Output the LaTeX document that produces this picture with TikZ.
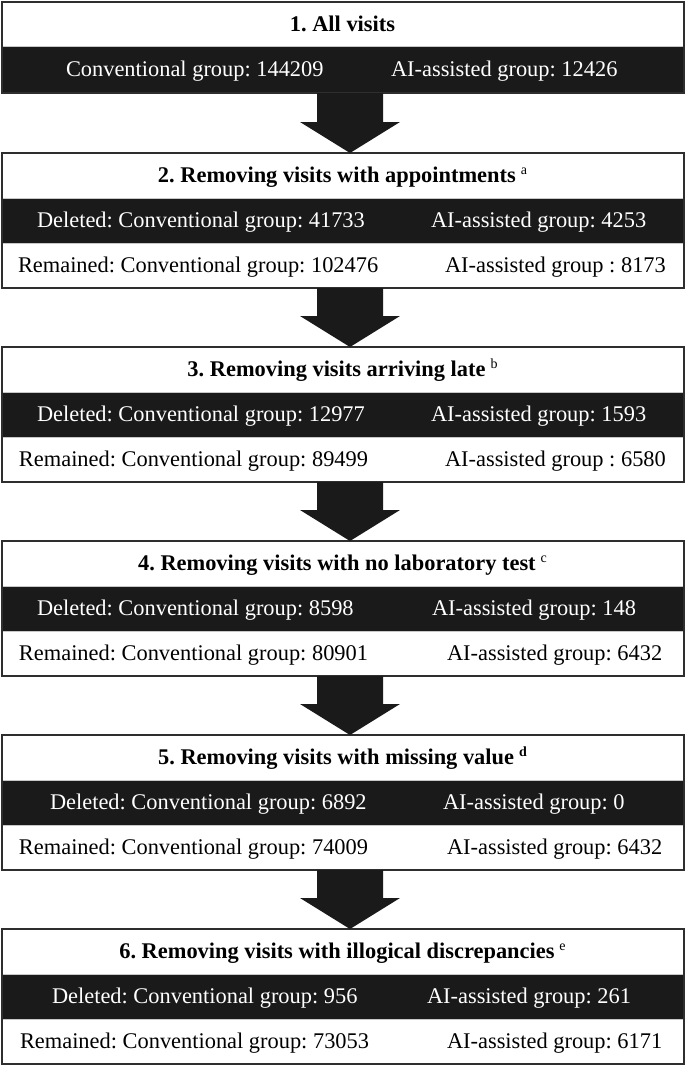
\documentclass[tikz,border=0pt]{standalone}
\usepackage{fontspec}
\setmainfont{Liberation Serif}
\usetikzlibrary{calc,fit}
\definecolor{bandblack}{HTML}{1A1A1A}
\definecolor{framegray}{HTML}{2E2E2E}
\definecolor{sepgray}{HTML}{C8C8C8}
\frenchspacing
\newcommand{\supmark}[1]{\hspace{5pt}\raisebox{8.5pt}{\fontsize{14}{14}\selectfont\mdseries #1}}
\newcommand{\supmarkbold}[1]{\hspace{5pt}\raisebox{8.5pt}{\fontsize{14}{14}\selectfont\bfseries #1}}
\newcommand{\flowarrow}[3]{%
  \coordinate (#3s) at (#1.south -| ax);
  \coordinate (#3e) at (#2.north -| ax);
  \fill[arrowfill] ($(#3s)+(-33,0)$) -- ($(#3s)+(33,0)$) -- ($(#3e)+(33,-31)$)
    -- ($(#3e)+(50,-31)$) -- (#3e) -- ($(#3e)+(-50,-31)$) -- ($(#3e)+(-33,-31)$) -- cycle;}
\begin{document}
\begin{tikzpicture}[x=1pt,y=-1pt,
  every node/.style={font=\fontsize{22.4}{26}\selectfont, inner sep=0pt, outer sep=0pt},
  rowbase/.style={minimum width=682pt, minimum height=45pt, text height=14pt, text depth=0pt, draw=sepgray, line width=0.8pt},
  titlerow/.style={rowbase, fill=white, font=\fontsize{22.4}{26}\selectfont\bfseries},
  bandrow/.style={rowbase, fill=bandblack},
  remrow/.style={rowbase, fill=white},
  wtext/.style={text=white, anchor=base west},
  btext/.style={text=black, anchor=base west},
  boxframe/.style={draw=framegray, line width=2pt, inner sep=0pt},
  arrowfill/.style={fill=bandblack}
]
\useasboundingbox (0,0) rectangle (685,1066);
\coordinate (ax) at (350,0);

% ---- Box 1
\node[titlerow, minimum height=44pt] (t1) at (342.5,24) {1. All visits};
\node[bandrow, minimum height=47pt] (d1) at (342.5,69.5) {};
\node[wtext] (d1l) at (66,76.5) {Conventional group: 144209};
\node[wtext] (d1r) at (391,76.5) {AI-assisted group: 12426};
\node[boxframe, fit=(t1)(d1)] (b1) {};

% ---- Box 2
\node[titlerow] (t2) at (342.5,175.5) {2. Removing visits with appointments\supmark{a}};
\node[bandrow] (d2) at (342.5,220.5) {};
\node[remrow] (r2) at (342.5,265.5) {};
\node[wtext] (d2l) at (37,227.5) {Deleted: Conventional group: 41733};
\node[wtext] (d2r) at (431,227.5) {AI-assisted group: 4253};
\node[btext] (r2l) at (18,272.5) {Remained: Conventional group: 102476};
\node[btext] (r2r) at (445,272.5) {AI-assisted group : 8173};
\node[boxframe, fit=(t2)(r2)] (b2) {};

% ---- Box 3
\node[titlerow] (t3) at (342.5,369.5) {3. Removing visits arriving late\supmark{b}};
\node[bandrow] (d3) at (342.5,414.5) {};
\node[remrow] (r3) at (342.5,459.5) {};
\node[wtext] (d3l) at (37,421.5) {Deleted: Conventional group: 12977};
\node[wtext] (d3r) at (431,421.5) {AI-assisted group: 1593};
\node[btext] (r3l) at (19,466.5) {Remained: Conventional group: 89499};
\node[btext] (r3r) at (445,466.5) {AI-assisted group : 6580};
\node[boxframe, fit=(t3)(r3)] (b3) {};

% ---- Box 4
\node[titlerow] (t4) at (342.5,563.5) {4. Removing visits with no laboratory test\supmark{c}};
\node[bandrow] (d4) at (342.5,608.5) {};
\node[remrow] (r4) at (342.5,653.5) {};
\node[wtext] (d4l) at (37,615.5) {Deleted: Conventional group: 8598};
\node[wtext] (d4r) at (432,615.5) {AI-assisted group: 148};
\node[btext] (r4l) at (19,660.5) {Remained: Conventional group: 80901};
\node[btext] (r4r) at (447,660.5) {AI-assisted group: 6432};
\node[boxframe, fit=(t4)(r4)] (b4) {};

% ---- Box 5
\node[titlerow] (t5) at (342.5,757.5) {5. Removing visits with missing value\supmarkbold{d}};
\node[bandrow] (d5) at (342.5,802.5) {};
\node[remrow] (r5) at (342.5,847.5) {};
\node[wtext] (d5l) at (50,809.5) {Deleted: Conventional group: 6892};
\node[wtext] (d5r) at (443,809.5) {AI-assisted group: 0};
\node[btext] (r5l) at (19,854.5) {Remained: Conventional group: 74009};
\node[btext] (r5r) at (447,854.5) {AI-assisted group: 6432};
\node[boxframe, fit=(t5)(r5)] (b5) {};

% ---- Box 6
\node[titlerow] (t6) at (342.5,951.5) {6. Removing visits with illogical discrepancies\supmark{e}};
\node[bandrow] (d6) at (342.5,996.5) {};
\node[remrow] (r6) at (342.5,1041.5) {};
\node[wtext] (d6l) at (52,1003.5) {Deleted: Conventional group: 956};
\node[wtext] (d6r) at (427,1003.5) {AI-assisted group: 261};
\node[btext] (r6l) at (20,1048.5) {Remained: Conventional group: 73053};
\node[btext] (r6r) at (447,1048.5) {AI-assisted group: 6171};
\node[boxframe, fit=(t6)(r6)] (b6) {};

% ---- Arrows
\flowarrow{b1}{b2}{a1}
\flowarrow{b2}{b3}{a2}
\flowarrow{b3}{b4}{a3}
\flowarrow{b4}{b5}{a4}
\flowarrow{b5}{b6}{a5}
\end{tikzpicture}
\end{document}
